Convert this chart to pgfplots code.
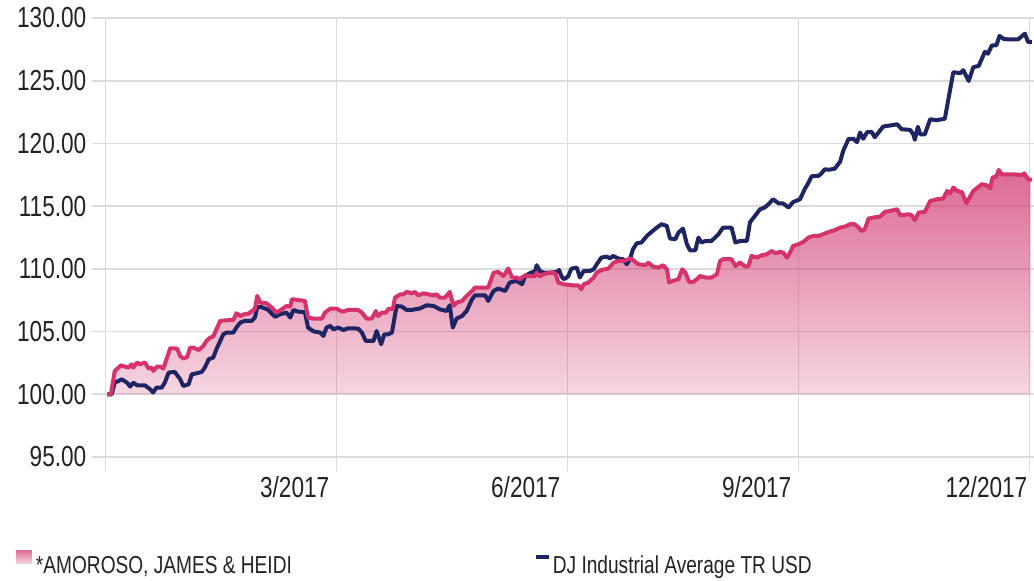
\documentclass[border=0pt]{standalone}
\usepackage{fontspec}
\setmainfont{Liberation Sans}[FakeStretch=0.78]
\usepackage{pgfplots}
\usepackage{pgfplotstable}
\pgfplotsset{compat=1.18}
\usepgfplotslibrary{fillbetween}
\usetikzlibrary{fadings}
\definecolor{gridgray}{RGB}{220,220,220}
\definecolor{pinkline}{RGB}{214,51,108}
\definecolor{areapink}{RGB}{208,50,110}
\definecolor{navy}{RGB}{30,37,98}
\definecolor{labeltext}{RGB}{34,34,34}
\definecolor{legtop}{RGB}{222,112,154}
\definecolor{legbot}{RGB}{247,214,226}
\tikzfading[name=areafade, top color=transparent!27, bottom color=transparent!80]

\pgfplotstableread{
x y
0.02 100.00
0.07 100.00
0.12 101.86
0.17 102.13
0.20 102.31
0.25 102.21
0.30 102.13
0.34 102.39
0.36 102.13
0.41 102.53
0.45 102.39
0.51 102.53
0.56 102.05
0.60 102.13
0.62 101.86
0.67 102.21
0.71 102.21
0.75 102.05
0.80 102.93
0.84 103.67
0.93 103.64
0.97 103.05
1.01 102.85
1.06 102.97
1.10 103.72
1.14 103.72
1.21 103.53
1.27 103.85
1.31 104.25
1.36 104.52
1.40 104.60
1.44 105.18
1.49 105.85
1.57 105.90
1.66 105.92
1.70 106.46
1.75 106.24
1.80 106.38
1.86 106.44
1.90 106.64
1.94 106.78
1.97 107.84
2.01 107.31
2.09 107.26
2.16 106.91
2.22 106.51
2.29 106.78
2.35 107.04
2.40 106.99
2.42 107.58
2.50 107.52
2.59 107.44
2.63 106.12
2.70 106.04
2.81 106.04
2.85 106.51
2.92 106.83
3.00 106.83
3.07 106.59
3.11 106.64
3.15 106.72
3.28 106.72
3.33 106.51
3.39 106.04
3.46 106.04
3.51 106.64
3.54 106.24
3.59 106.51
3.64 106.51
3.68 106.83
3.73 106.78
3.76 107.71
3.83 107.97
3.87 107.97
3.91 108.16
3.98 108.05
4.02 108.16
4.06 107.89
4.13 108.05
4.19 107.97
4.26 107.89
4.30 107.97
4.34 107.71
4.41 107.71
4.47 108.16
4.52 107.04
4.56 107.31
4.63 107.44
4.69 107.84
4.76 108.24
4.80 108.51
4.97 108.51
5.04 109.70
5.10 109.75
5.17 109.43
5.23 110.02
5.28 109.31
5.34 109.31
5.38 109.17
5.45 109.49
5.49 109.43
5.58 109.43
5.60 109.70
5.64 109.39
5.69 109.57
5.77 109.70
5.84 109.65
5.86 109.31
5.88 108.91
5.95 108.77
6.06 108.69
6.14 108.69
6.18 108.37
6.21 108.77
6.27 108.91
6.34 109.31
6.38 109.70
6.44 109.91
6.53 110.02
6.60 110.50
6.66 110.63
6.73 110.63
6.79 110.77
6.83 110.82
6.88 110.55
6.92 110.37
7.01 110.29
7.05 110.50
7.11 110.18
7.18 110.10
7.24 110.29
7.29 109.97
7.32 108.91
7.37 109.04
7.44 109.17
7.49 109.97
7.53 109.70
7.58 108.96
7.63 108.96
7.68 109.17
7.72 109.43
7.79 109.31
7.87 109.31
7.94 109.57
7.98 110.61
8.02 110.77
8.13 110.77
8.18 110.23
8.24 110.50
8.31 110.18
8.35 110.23
8.39 111.03
8.46 110.90
8.52 111.08
8.59 111.16
8.65 111.43
8.70 111.24
8.76 111.35
8.80 111.30
8.85 110.90
8.89 111.30
8.93 111.83
9.00 111.96
9.06 112.14
9.13 112.50
9.19 112.62
9.26 112.62
9.32 112.76
9.39 112.94
9.47 113.08
9.54 113.29
9.60 113.37
9.67 113.56
9.73 113.56
9.78 113.29
9.82 113.02
9.86 113.16
9.91 114.01
9.97 114.09
10.06 114.17
10.12 114.54
10.19 114.62
10.28 114.75
10.32 114.27
10.43 114.35
10.47 114.27
10.51 113.88
10.56 114.49
10.64 114.54
10.71 115.41
10.80 115.55
10.88 115.61
10.93 116.21
10.97 116.03
11.01 116.48
11.06 116.21
11.12 116.13
11.18 115.23
11.27 116.21
11.38 116.75
11.44 116.67
11.49 116.43
11.52 117.28
11.57 117.38
11.60 117.89
11.64 117.54
11.70 117.54
11.81 117.54
11.90 117.46
11.93 117.62
11.98 117.15
12.03 117.09
}\fund

\pgfplotstableread{
x y
0.02 100.00
0.08 100.00
0.12 100.93
0.17 101.06
0.21 101.20
0.28 100.93
0.32 100.61
0.36 100.93
0.41 100.72
0.51 100.72
0.58 100.40
0.62 100.14
0.66 100.53
0.73 100.53
0.77 100.93
0.82 101.73
0.90 101.78
0.97 101.20
1.01 100.66
1.08 100.80
1.12 101.59
1.18 101.67
1.25 101.78
1.29 102.13
1.34 102.79
1.40 102.93
1.44 103.59
1.49 104.25
1.53 104.78
1.57 104.92
1.66 104.92
1.70 105.32
1.75 105.72
1.81 105.85
1.90 105.85
1.94 106.12
1.97 106.91
2.01 106.98
2.11 106.75
2.20 106.18
2.27 106.38
2.35 106.51
2.40 106.12
2.44 106.72
2.50 106.59
2.59 106.54
2.63 105.32
2.70 105.02
2.79 104.92
2.83 104.65
2.87 105.32
2.92 105.45
2.96 105.18
3.02 105.32
3.09 105.13
3.15 105.26
3.28 105.24
3.33 104.92
3.38 104.25
3.48 104.25
3.52 105.05
3.58 103.99
3.62 104.78
3.67 104.78
3.72 104.92
3.78 107.04
3.85 106.99
3.91 106.72
3.98 106.72
4.02 106.78
4.08 106.83
4.17 107.10
4.26 107.04
4.34 106.78
4.43 106.64
4.47 107.10
4.51 105.32
4.56 106.04
4.63 106.24
4.69 106.64
4.76 107.58
4.80 107.89
4.93 107.89
4.97 107.44
5.04 108.24
5.10 108.43
5.19 108.24
5.25 108.91
5.34 109.04
5.41 108.77
5.45 109.43
5.51 109.65
5.58 109.83
5.60 110.29
5.64 109.83
5.69 109.70
5.77 109.70
5.86 109.75
5.89 109.91
5.92 109.43
5.95 109.17
5.99 109.31
6.01 109.43
6.05 110.02
6.12 110.10
6.16 109.31
6.21 109.83
6.29 109.83
6.34 109.97
6.38 110.37
6.44 110.90
6.51 110.98
6.55 110.82
6.59 111.03
6.66 110.82
6.72 110.77
6.77 110.37
6.81 110.77
6.85 111.56
6.90 112.04
6.96 112.10
7.03 112.62
7.09 112.94
7.16 113.29
7.22 113.56
7.29 113.42
7.33 112.42
7.40 112.36
7.44 112.89
7.50 113.21
7.55 111.96
7.59 111.48
7.66 111.48
7.70 112.50
7.74 112.10
7.79 112.22
7.87 112.22
7.96 112.76
8.02 113.29
8.13 113.29
8.18 112.10
8.24 112.22
8.33 112.24
8.37 113.72
8.43 114.19
8.50 114.75
8.56 114.89
8.61 115.15
8.67 115.55
8.74 115.23
8.80 115.21
8.87 114.89
8.93 115.33
9.02 115.55
9.08 116.35
9.13 116.88
9.17 117.38
9.26 117.42
9.30 117.62
9.34 117.94
9.39 117.90
9.47 117.98
9.54 118.54
9.58 119.40
9.65 120.37
9.71 120.37
9.76 120.10
9.80 120.87
9.84 120.37
9.89 120.89
9.95 120.92
9.99 120.49
10.10 121.35
10.21 121.45
10.28 121.53
10.34 121.13
10.45 121.08
10.49 120.73
10.51 120.29
10.55 121.33
10.58 120.73
10.64 120.73
10.71 121.93
10.79 121.85
10.90 121.97
10.95 123.66
11.01 125.68
11.10 125.60
11.14 125.84
11.21 124.98
11.27 126.08
11.34 126.18
11.42 127.31
11.46 127.15
11.51 127.81
11.57 127.83
11.61 128.57
11.67 128.31
11.85 128.29
11.94 128.75
11.98 128.09
12.03 128.09
}\djia

\begin{document}
\begin{tikzpicture}
\begin{axis}[
  at={(0pt,0pt)}, anchor=south west,
  scale only axis, width=928.5pt, height=439pt,
  xmin=0, xmax=12.058, ymin=95, ymax=130,
  axis line style={draw=none},
  xtick={0,3,6,9}, xticklabels={,3/2017,6/2017,9/2017},
  extra x ticks={12}, extra x tick labels={12/2017},
  extra x tick style={xticklabel style={xshift=5pt}},
  ytick={95,100,105,110,115,120,125,130},
  yticklabels={95.00,100.00,105.00,110.00,115.00,120.00,125.00,130.00},
  xtick pos=lower, ytick pos=left,
  tick align=outside, major tick length=14pt,
  tick style={draw=gridgray, line width=1.6pt},
  grid=major, major grid style={draw=gridgray, line width=1.6pt},
  ticklabel style={font=\fontsize{29}{34}\selectfont, text=labeltext, inner sep=0pt},
  yticklabel style={anchor=east, xshift=-5pt},
  xticklabel style={anchor=north east, xshift=-7pt, yshift=-5pt},
  clip=false,
  legend columns=2,
  legend cell align=left,
  legend style={draw=none, fill=none, inner sep=0pt, outer sep=0pt,
    at={(axis description cs:0,0)}, anchor=west, xshift=-89.5pt, yshift=-106pt,
    font=\fontsize{24.5}{28}\selectfont, text=labeltext,
    nodes={inner sep=0pt},
    /tikz/every odd column/.append style={column sep=4pt},
    /tikz/every even column/.append style={column sep=244pt}},
]
\addlegendimage{legend image code/.code={\shade[draw=none, top color=legtop, bottom color=legbot] (0pt,2pt) rectangle (16pt,15pt);}}
\addlegendentry{*AMOROSO, JAMES \& HEIDI}
\addlegendimage{legend image code/.code={\fill[navy, draw=none] (0pt,6.5pt) rectangle (13pt,10.5pt);}}
\addlegendentry{DJ Industrial Average TR USD}

\addplot[navy, line width=4pt, line join=round, forget plot] table[x=x,y=y] {\djia};
\addplot[draw=none, name path=fund, forget plot] table[x=x,y=y] {\fund};
\addplot[draw=none, name path=base, forget plot] coordinates {(0.02,100) (12.03,100)};
\addplot[fill=areapink, draw=none, path fading=areafade, forget plot] fill between[of=fund and base];
\addplot[pinkline, line width=4pt, line join=round, forget plot] table[x=x,y=y] {\fund};
\end{axis}
\pgfresetboundingbox
\path[use as bounding box] (-105.5pt,-124pt) rectangle (928.5pt,457pt);
\end{tikzpicture}
\end{document}
